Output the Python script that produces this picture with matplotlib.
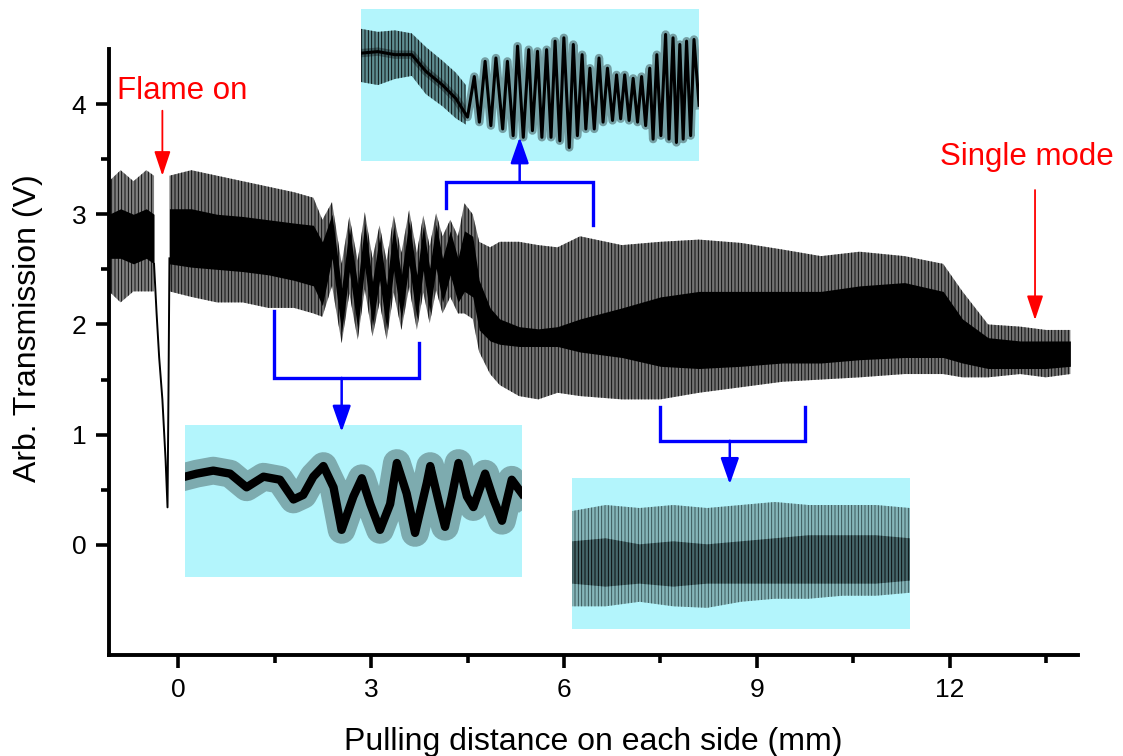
import matplotlib.pyplot as plt

plt.rcParams['font.family'] = ['Liberation Sans', 'DejaVu Sans']
plt.rcParams['hatch.linewidth'] = 0.6

# ---- main trace (x in mm, y in V) ----
# stretch before the flame is switched on
pre_x = [-1.08, -0.9, -0.7, -0.5, -0.38]
pre_spike_hi = [3.3, 3.4, 3.3, 3.4, 3.35]
pre_core_hi = [3.0, 3.05, 3.0, 3.05, 3.0]
pre_core_lo = [2.6, 2.6, 2.55, 2.6, 2.55]
pre_spike_lo = [2.3, 2.2, 2.3, 2.3, 2.3]

# the dip when the flame comes on
dip_x = [-0.38, -0.34, -0.30, -0.25, -0.20, -0.17, -0.155, -0.14]
dip_y = [2.55, 2.1, 1.7, 1.32, 0.77, 0.34, 1.4, 2.6]

# rest of the pull: envelope of the spikes and of the dense core
main_x = [-0.14, 0.2, 0.6, 1.0, 1.4, 1.8, 2.1,
          2.24, 2.39, 2.54, 2.66, 2.79, 2.90, 3.02, 3.13, 3.24, 3.35,
          3.47, 3.59, 3.71, 3.81, 3.91, 4.01, 4.11, 4.23, 4.35,
          4.45, 4.58, 4.68, 4.85, 5.0, 5.3, 5.6, 5.9, 6.25, 6.9, 7.5,
          8.1, 8.75, 9.4, 10.0, 10.6, 11.3, 11.9, 12.2, 12.6, 13.1, 13.5, 13.88]
main_spike_hi = [3.35, 3.4, 3.35, 3.3, 3.25, 3.2, 3.15,
                 2.95, 3.11, 2.55, 2.98, 2.58, 3.02, 2.6, 2.9, 2.58, 2.99,
                 2.65, 3.04, 2.65, 2.99, 2.71, 3.01, 2.8, 2.95, 2.8,
                 3.1, 3.0, 2.75, 2.7, 2.75, 2.75, 2.72, 2.7, 2.8, 2.72, 2.75,
                 2.77, 2.74, 2.68, 2.62, 2.66, 2.62, 2.55, 2.3, 2.0, 1.98, 1.95, 1.95]
main_core_hi = [3.05, 3.05, 3.0, 2.98, 2.95, 2.92, 2.9,
                2.75, 3.0, 2.33, 2.88, 2.36, 2.92, 2.39, 2.8, 2.36, 2.89,
                2.45, 2.94, 2.45, 2.89, 2.51, 2.91, 2.6, 2.85, 2.6,
                2.85, 2.8, 2.4, 2.15, 2.05, 1.98, 1.96, 1.98, 2.05, 2.15, 2.25,
                2.3, 2.3, 2.3, 2.3, 2.35, 2.38, 2.3, 2.05, 1.88, 1.85, 1.85, 1.85]
main_core_lo = [2.55, 2.52, 2.5, 2.48, 2.45, 2.4, 2.35,
                2.17, 2.6, 1.93, 2.48, 1.96, 2.52, 1.99, 2.4, 1.96, 2.49,
                2.05, 2.54, 2.05, 2.49, 2.11, 2.51, 2.2, 2.45, 2.2,
                2.3, 2.25, 1.95, 1.85, 1.82, 1.8, 1.8, 1.8, 1.75, 1.7, 1.62,
                1.6, 1.62, 1.65, 1.65, 1.68, 1.7, 1.7, 1.65, 1.6, 1.6, 1.6, 1.62]
main_spike_lo = [2.3, 2.25, 2.2, 2.2, 2.15, 2.15, 2.1,
                 2.07, 2.35, 1.83, 2.28, 1.86, 2.32, 1.89, 2.2, 1.86, 2.29,
                 1.95, 2.34, 1.95, 2.29, 2.01, 2.31, 2.1, 2.25, 2.1,
                 2.1, 2.05, 1.75, 1.55, 1.45, 1.35, 1.32, 1.38, 1.35, 1.32, 1.32,
                 1.38, 1.43, 1.48, 1.5, 1.52, 1.55, 1.55, 1.52, 1.52, 1.55, 1.52, 1.55]

# ---- insets (relative units, 0-100 across and up each box) ----
# top inset: 4.2-6.45 mm, turning into strong beating
top_x = [0, 5, 10, 15, 19.2, 24.1, 28.1, 31.5, 33.5, 35, 36.7, 38.4, 39.9, 41.9,
         43.3, 45, 46.3, 48, 49.6, 50.7, 52.2, 53.5, 54.9, 56.2, 57.4, 58.8, 60,
         61.6, 62.8, 64, 65.4, 66.5, 67.7, 69, 70.4, 71.6, 72.9, 74.4, 75.6, 76.8,
         78, 79.3, 80.5, 81.8, 83, 84.2, 85.4, 86.4, 87.5, 88.7, 90.1, 91.1, 92.3,
         93.3, 94.3, 95.3, 96.3, 97.5, 98.5, 100]
top_y = [71, 72, 70, 70, 59, 50, 41, 28.9, 55.6, 25.6, 65.6, 23.3, 67.8, 21.1,
         65.6, 16.7, 75.6, 15.6, 73.3, 20, 72.2, 15.6, 73.3, 15.6, 78.9, 13.3, 81.1,
         8.9, 76.7, 16.7, 70, 21.1, 61.1, 21.1, 67.8, 25.6, 61.1, 26.7, 56.7, 27.8,
         56.7, 26.7, 54.4, 25.6, 55.6, 23.3, 61.1, 14.4, 70, 16.7, 83.3, 14.4, 81.1,
         12.2, 76.7, 14.4, 78.9, 16.7, 80, 36.7]
# noisy plateau and slide at the start of the top inset
top_band_x = [0, 5, 10, 15, 19.2, 24.1, 28.1, 31]
top_band_hi = [87, 85, 86, 84, 75, 66, 58, 50]
top_band_lo = [52, 50, 54, 56, 44, 36, 28, 24]

# bottom-left inset: 1.5-3.75 mm, onset of slow oscillation
left_x = [0, 3.5, 8.4, 13.4, 18.3, 23.3, 28.2, 32.2, 35.1, 38.1, 41.1, 44.1, 46.5,
          50, 52.5, 55, 57.9, 60.9, 62.9, 65.8, 68.3, 71.8, 72.8, 75.7, 77.2, 79.2,
          81.2, 83.7, 85.6, 89.1, 91.6, 94.1, 97, 100]
left_y = [66, 68, 70, 68, 59, 66, 64, 51, 54, 66, 73, 59, 31,
          53, 65, 48, 31, 48, 75, 55, 29, 62, 73, 46, 33, 53,
          75, 53, 46, 68, 51, 37, 64, 55]

# bottom-right inset: 7.5-9.75 mm, fast beating band
right_x = [0, 10, 20, 30, 40, 50, 60, 70, 80, 90, 100]
right_outer_hi = [78, 82, 80, 82, 80, 82, 84, 82, 82, 82, 80]
right_inner_hi = [58, 60, 56, 58, 56, 58, 60, 62, 62, 62, 60]
right_inner_lo = [30, 28, 30, 28, 30, 30, 30, 30, 30, 30, 32]
right_outer_lo = [15, 15, 18, 15, 14, 18, 20, 20, 22, 22, 24]

cyan = '#b3f5fc'
fig = plt.figure(figsize=(11.23, 7.56), dpi=100)


def make_inset(rect):
    a = fig.add_axes(rect, zorder=1)
    a.set_facecolor(cyan)
    a.set_xlim(0, 100)
    a.set_ylim(0, 100)
    a.set_xticks([])
    a.set_yticks([])
    for s in a.spines.values():
        s.set_visible(False)
    return a


ins_top = make_inset([0.3215, 0.787, 0.301, 0.201])
ins_top.fill_between(top_band_x, top_band_lo, top_band_hi, facecolor='#5f8e92',
                     edgecolor='black', hatch='|||||', lw=0)
ins_top.plot(top_x, top_y, color='black', lw=6, alpha=0.35)
ins_top.plot(top_x, top_y, color='black', lw=2.2)

ins_left = make_inset([0.1647, 0.2368, 0.300, 0.201])
ins_left.plot(left_x, left_y, color='black', lw=20, alpha=0.3)
ins_left.plot(left_x, left_y, color='black', lw=6)

ins_right = make_inset([0.5093, 0.168, 0.301, 0.200])
ins_right.fill_between(right_x, right_outer_lo, right_outer_hi, facecolor='#86b6ba',
                       edgecolor='#2f4a4c', hatch='|||||', lw=0)
ins_right.fill_between(right_x, right_inner_lo, right_inner_hi, facecolor='#46676a',
                       edgecolor='black', hatch='|||||', lw=0)

# ---- main axes, above the insets so the arrow heads overlap them ----
ax = fig.add_axes([0.0971, 0.1336, 0.8629, 0.8016], zorder=3)
ax.patch.set_alpha(0)

ax.fill_between(pre_x, pre_spike_lo, pre_spike_hi, facecolor='0.5',
                edgecolor='black', hatch='|||||', lw=0)
ax.fill_between(pre_x, pre_core_lo, pre_core_hi, color='black', lw=0)
ax.fill_between(main_x, main_spike_lo, main_spike_hi, facecolor='0.45',
                edgecolor='black', hatch='|||||', lw=0)
ax.fill_between(main_x, main_core_lo, main_core_hi, color='black', lw=0)
ax.plot(dip_x, dip_y, color='black', lw=1.4)

ax.set_xlim(-1.08, 14)
ax.set_ylim(-1, 4.5)
ax.set_xticks([0, 3, 6, 9, 12])
ax.set_xticks([1.5, 4.5, 7.5, 10.5, 13.5], minor=True)
ax.set_yticks([0, 1, 2, 3, 4])
ax.set_yticks([0.5, 1.5, 2.5, 3.5], minor=True)
ax.tick_params(which='major', direction='out', length=9.5, width=2.6, labelsize=19, pad=7)
ax.tick_params(which='minor', direction='out', length=5.5, width=2.6)
for s in ['top', 'right']:
    ax.spines[s].set_visible(False)
for s in ['left', 'bottom']:
    ax.spines[s].set_linewidth(2.8)

ax.set_xlabel('Pulling distance on each side (mm)', fontsize=23, labelpad=18)
ax.set_ylabel('Arb. Transmission (V)', fontsize=23)
ax.yaxis.set_label_coords(-0.068, 0.54)

# red markers
red_arrow = dict(arrowstyle='-|>,head_length=0.75,head_width=0.25', color='red',
                 lw=1.3, mutation_scale=20, shrinkA=0, shrinkB=0)
ax.annotate('', xy=(-0.25, 3.35), xytext=(-0.25, 3.94), arrowprops=red_arrow)
ax.text(0.06, 4.12, 'Flame on', color='red', fontsize=22.5, ha='center', va='center')
ax.annotate('', xy=(13.33, 2.04), xytext=(13.33, 3.22), arrowprops=red_arrow)
ax.text(13.2, 3.52, 'Single mode', color='red', fontsize=22.5, ha='center', va='center')

# blue brackets pointing to the insets
blue_arrow = dict(arrowstyle='-|>,head_length=0.8,head_width=0.28', color='blue',
                  lw=1.8, mutation_scale=20, shrinkA=0, shrinkB=0)
brackets = [
    # x left, x right, y bar, y left end, y right end, x arrow, y tip
    (4.17, 6.45, 3.29, 3.06, 2.90, 5.31, 3.70),
    (1.48, 3.74, 1.515, 2.12, 1.83, 2.54, 1.025),
    (7.49, 9.75, 0.944, 1.25, 1.25, 8.58, 0.55),
]
for x0, x1, yb, y0, y1, xa, ya in brackets:
    ax.plot([x0, x0, x1, x1], [y0, yb, yb, y1], color='blue', lw=2.4,
            solid_joinstyle='miter')
    ax.annotate('', xy=(xa, ya), xytext=(xa, yb), arrowprops=blue_arrow)

fig.savefig('out.png', dpi=100, facecolor='white')
